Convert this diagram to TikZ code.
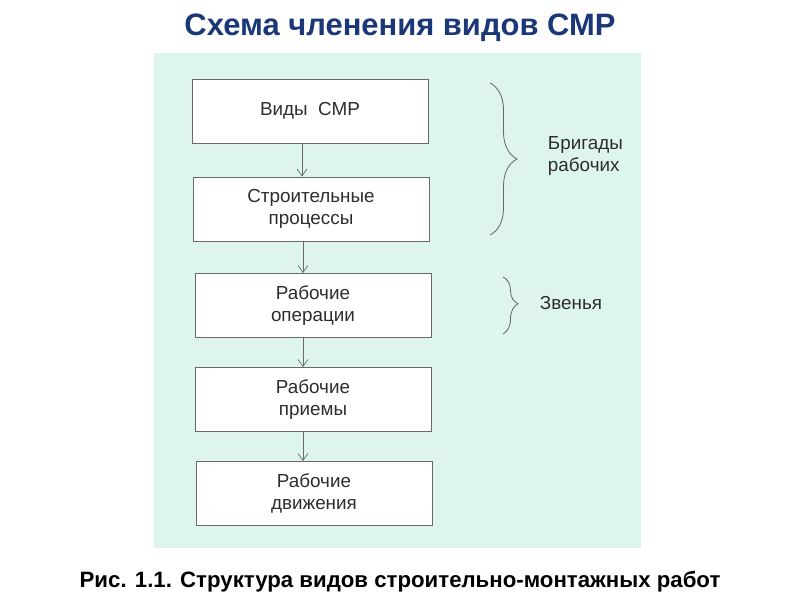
\documentclass[tikz,border=0pt]{standalone}
\usepackage{fontspec}
\setmainfont{Liberation Sans}
\usetikzlibrary{arrows.meta, positioning, decorations.pathreplacing}
\definecolor{mybg}{RGB}{222,245,239}
\definecolor{mytitle}{RGB}{26,56,120}
\definecolor{myline}{RGB}{105,105,105}
\definecolor{mytext}{RGB}{45,45,45}

\begin{document}
\begin{tikzpicture}[x=0.025cm, y=-0.025cm,
    stage/.style={draw=myline, fill=white, line width=0.6pt, minimum width=5.9cm,
      minimum height=1.6cm, align=center, text=mytext,
      font=\fontsize{13.4}{15.8}\selectfont},
    arr/.style={draw=myline, line width=0.5pt, -{Straight Barb[length=5pt, width=7pt]}},
    brc/.style={draw=myline, line width=0.6pt, decorate},
    note/.style={anchor=west, align=left, text=mytext, font=\fontsize{13.4}{15.8}\selectfont}]
  \useasboundingbox (0,0) rectangle (800,600);
  \fill[mybg] (154,53) rectangle (641,548);

  % title and caption
  \node[text=mytitle, font=\fontsize{22}{26}\bfseries\selectfont] (title) at (400,28) {Схема членения видов СМР};
  \node[font=\fontsize{15.8}{19}\bfseries\selectfont] (caption) at (400,582) {Рис. 1.1. Структура видов строительно-монтажных работ};

  % stages
  \node[stage] (kinds) at (310,111) {Виды\ \ СМР};
  \node[stage] (processes) at (311,209) {Строительные\\процессы};
  \node[stage] (operations) at (313,305.5) {Рабочие\\операции};
  \node[stage] (techniques) at (313,399.5) {Рабочие\\приемы};
  \node[stage] (motions) at (314,493.5) {Рабочие\\движения};

  \draw[arr] ([xshift=-0.2cm]kinds.south) -- ([xshift=-0.2cm]kinds.south |- processes.north);
  \draw[arr] ([xshift=-0.2cm]processes.south) -- ([xshift=-0.2cm]processes.south |- operations.north);
  \draw[arr] ([xshift=-0.25cm]operations.south) -- ([xshift=-0.25cm]operations.south |- techniques.north);
  \draw[arr] ([xshift=-0.25cm]techniques.south) -- ([xshift=-0.25cm]techniques.south |- motions.north);

  % braces
  \coordinate (crewtop) at (490,83);
  \coordinate (crewbot) at (490,235);
  \coordinate (linktop) at (503,277);
  \coordinate (linkbot) at (503,334);
  \draw[brc, decoration={brace, amplitude=0.675cm, aspect=0.5}] (crewtop) -- (crewbot);
  \draw[brc, decoration={brace, amplitude=0.375cm, aspect=0.47}] (linktop) -- (linkbot);
  \node[note] (crew) at (543,156) {Бригады\\рабочих};
  \node[note] (links) at (535,303) {Звенья};
\end{tikzpicture}
\end{document}
